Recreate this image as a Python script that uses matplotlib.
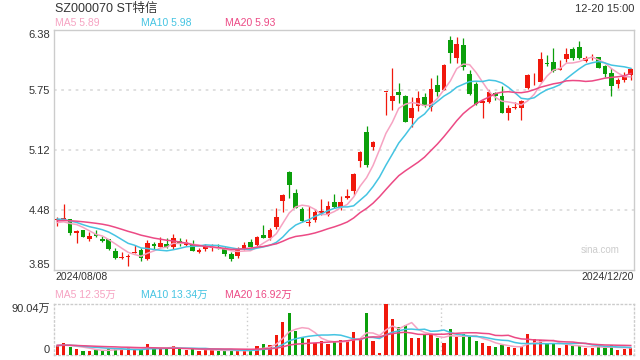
import matplotlib
matplotlib.use("Agg")
import matplotlib.pyplot as plt
import numpy as np
import pandas as pd

# ---------------- data ----------------
title = "SZ000070 ST特信"
stamp = "12-20 15:00"
date_labels = ["2024/08/08", "2024/12/20"]
price_ticks = [3.85, 4.4825, 5.115, 5.7475, 6.38]
price_tick_labels = ["3.85", "4.48", "5.12", "5.75", "6.38"]
vol_tick_labels = ["0", "90.04万"]
vol_max = 90.04

opens = [4.375, 4.39, 4.385, 4.237, 4.272, 4.177, 4.229, 4.177, 4.177, 4.050,
         3.975, 3.987, 4.033, 4.061, 3.963, 4.12, 4.096, 4.12, 4.096, 4.159,
         4.113, 4.124, 4.040, 4.071, 4.085, 4.096, 4.071, 4.019, 4.0, 4.068,
         4.148, 4.113, 4.219, 4.184, 4.306, 4.58, 4.886, 4.659, 4.493, 4.349,
         4.377, 4.455, 4.43, 4.57, 4.51, 4.605, 4.686, 4.999, 5.308, 5.15,
         5.46, 5.73, 5.632, 5.73, 5.688, 5.45, 5.582, 5.677, 5.571, 5.80,
         5.747, 6.275, 6.082, 6.222, 5.913, 5.808, 5.607, 5.618, 5.719, 5.687,
         5.502, 5.555, 5.561, 5.765, 5.838, 5.835, 6.029, 6.04, 5.958, 6.074,
         6.18, 6.198, 6.053, 6.085, 6.092, 6.004, 5.923, 5.81, 5.853, 5.905]
highs = [4.41, 4.55, 4.39, 4.27, 4.275, 4.254, 4.272, 4.208, 4.18, 4.085,
         4.043, 4.019, 4.113, 4.078, 4.166, 4.145, 4.201, 4.184, 4.23, 4.184,
         4.177, 4.166, 4.078, 4.124, 4.124, 4.124, 4.096, 4.043, 4.089, 4.148,
         4.177, 4.208, 4.324, 4.29, 4.50, 4.651, 4.89, 4.704, 4.517, 4.525,
         4.49, 4.595, 4.578, 4.651, 4.634, 4.70, 4.876, 5.105, 5.371, 5.21,
         5.46, 5.73, 5.983, 5.818, 5.70, 5.677, 5.737, 5.713, 5.871, 5.906,
         6.018, 6.317, 6.31, 6.292, 5.958, 5.835, 5.642, 5.748, 5.73, 5.793,
         5.59, 5.624, 5.642, 5.913, 5.923, 6.145, 6.116, 6.187, 6.064, 6.193,
         6.204, 6.267, 6.11, 6.124, 6.099, 6.011, 5.976, 5.877, 5.94, 5.983]
lows = [4.31, 4.38, 4.22, 4.138, 4.20, 4.159, 4.195, 4.145, 4.06, 3.963,
        3.97, 3.892, 4.03, 3.945, 3.952, 4.061, 4.09, 4.078, 4.068, 4.103,
        4.103, 4.05, 4.026, 4.053, 4.053, 4.075, 4.0, 3.948, 3.973, 4.061,
        4.089, 4.103, 4.19, 4.166, 4.279, 4.465, 4.606, 4.50, 4.359, 4.314,
        4.359, 4.43, 4.42, 4.505, 4.482, 4.595, 4.641, 4.939, 4.939, 5.115,
        5.46, 5.48, 5.537, 5.614, 5.41, 5.36, 5.526, 5.571, 5.526, 5.687,
        5.747, 6.029, 6.029, 5.958, 5.695, 5.59, 5.455, 5.607, 5.642, 5.50,
        5.43, 5.547, 5.43, 5.758, 5.80, 5.835, 6.004, 5.934, 5.958, 6.046,
        6.064, 6.074, 6.046, 6.064, 5.976, 5.888, 5.687, 5.772, 5.829, 5.853]
closes = [4.39, 4.40, 4.243, 4.264, 4.201, 4.208, 4.212, 4.159, 4.071, 3.980,
          3.980, 3.993, 4.043, 3.980, 4.138, 4.103, 4.138, 4.096, 4.184, 4.124,
          4.148, 4.053, 4.061, 4.106, 4.092, 4.08, 4.019, 3.969, 4.068, 4.113,
          4.096, 4.201, 4.19, 4.272, 4.406, 4.64, 4.746, 4.507, 4.367, 4.359,
          4.465, 4.47, 4.525, 4.512, 4.564, 4.632, 4.865, 5.097, 4.957, 5.203,
          5.46, 5.73, 5.687, 5.695, 5.413, 5.555, 5.666, 5.582, 5.758, 5.73,
          6.011, 6.134, 6.232, 5.993, 5.702, 5.597, 5.632, 5.73, 5.687, 5.502,
          5.555, 5.572, 5.632, 5.906, 5.842, 6.074, 6.018, 5.948, 5.983, 6.127,
          6.088, 6.088, 6.082, 6.09, 5.983, 5.916, 5.793, 5.853, 5.898, 5.969]
volumes = [15.9, 21.2, 14.7, 10.6, 7.1, 7.1, 9.4, 7.1, 10.6, 11.8,
           10.6, 11.8, 9.4, 9.4, 19.4, 11.8, 10.6, 10.6, 15.9, 11.8,
           9.4, 10.6, 7.1, 9.4, 9.4, 7.1, 7.1, 8.2, 7.1, 8.2,
           8.2, 15.9, 19.4, 17.1, 35.3, 58.3, 74.2, 42.4, 31.2, 28.2,
           21.8, 24.7, 19.4, 23.0, 26.5, 26.5, 40.6, 28.2, 74.2, 24.7,
           3.5, 90.04, 63.6, 49.4, 53.0, 30.0, 30.0, 37.1, 37.1, 30.0,
           21.2, 45.9, 31.8, 37.1, 31.8, 24.7, 21.2, 15.9, 14.1, 17.7,
           14.1, 12.4, 14.1, 37.1, 28.2, 26.5, 19.4, 19.4, 12.4, 17.7,
           15.9, 15.9, 12.4, 12.4, 15.9, 11.5, 17.7, 9.5, 10.6, 12.4]
# history before the first visible day (only feeds the moving averages)
prior_closes = [4.30, 4.32, 4.35, 4.33, 4.36, 4.38, 4.35, 4.34, 4.36, 4.40,
                4.43, 4.42, 4.41, 4.44, 4.42, 4.36, 4.33, 4.32, 4.35]
prior_volumes = [18, 16, 20, 17, 15, 19, 16, 18, 17, 21,
                 15, 17, 16, 18, 19, 17, 16, 18, 15]

ma_windows = [5, 10, 20]
ma_names = ["MA5", "MA10", "MA20"]
ma_colors = ["#f6a3c2", "#45c4e2", "#ec4a85"]
price_ma_text = ["5.89", "5.98", "5.93"]
vol_ma_text = ["12.35万", "13.34万", "16.92万"]

UP = "#f0180c"
DOWN = "#0b9f0b"

plt.rcParams['font.family'] = ['Liberation Sans', 'Noto Sans CJK SC', 'DejaVu Sans']

fig = plt.figure(figsize=(6.4, 3.6), dpi=100)
W, H = 640.0, 360.0
L, R = 54, 634
ax = fig.add_axes([L / W, 1 - 270 / H, (R - L) / W, 240 / H])
axv = fig.add_axes([L / W, 1 - 355 / H, (R - L) / W, 51 / H])

n = len(closes)
x = np.arange(n)
o = np.array(opens); c = np.array(closes)
hi = np.array(highs); lo = np.array(lows)
up = c >= o
cols = [UP if u else DOWN for u in up]

# candles
ax.vlines(x, lo, hi, colors=cols, linewidth=0.9, zorder=3)
body_bottom = np.minimum(o, c)
body_h = np.maximum(np.abs(c - o), 0.008)
ax.bar(x, body_h, bottom=body_bottom, width=0.72, color=cols, linewidth=0, zorder=4)

# moving averages
full_c = pd.Series(prior_closes + closes)
full_v = pd.Series(prior_volumes + volumes)
k0 = len(prior_closes)
for w, col in zip(ma_windows, ma_colors):
    ma = full_c.rolling(w).mean().values[k0:]
    ax.plot(x, ma, color=col, linewidth=1.1, zorder=5)
    mav = full_v.rolling(w).mean().values[k0:]
    axv.plot(x, mav, color=col, linewidth=1.1, zorder=5)

ax.set_xlim(-0.5, n - 0.5)
ax.set_ylim(price_ticks[0], price_ticks[-1])
for t in price_ticks[1:-1]:
    ax.axhline(t, color="#dddddd", linewidth=1.3, linestyle=(0, (1.5, 2.5)), zorder=1)
ax.set_xticks([])
ax.set_yticks(price_ticks, price_tick_labels)
ax.tick_params(axis='y', length=0, pad=3, labelsize=8, labelcolor="#333333")
labs = ax.get_yticklabels()
labs[0].set_va('bottom')
labs[-1].set_va('top')
for s in ax.spines.values():
    s.set_color("#cccccc")
    s.set_linewidth(1.0)

# volume bars
axv.bar(x, volumes, width=0.5, color=cols, linewidth=0, zorder=3)
axv.set_xlim(-0.5, n - 0.5)
axv.set_ylim(0, vol_max)
axv.set_xticks([])
axv.set_yticks([0, vol_max], vol_tick_labels)
axv.tick_params(axis='y', length=0, pad=3, labelsize=8, labelcolor="#333333")
vl = axv.get_yticklabels()
vl[0].set_va('bottom')
vl[1].set_va('top')
for xv in [n / 3 - 0.5, 2 * n / 3 - 0.5]:
    axv.axvline(xv, color="#cccccc", linewidth=1.0, linestyle=(0, (1, 2)), zorder=1)
for s in axv.spines.values():
    s.set_color("#cccccc")
    s.set_linewidth(1.0)
    s.set_linestyle((0, (1, 2)))

# texts
fig.text(55 / W, 1 - 9 / H, title, fontsize=9, color="#333333", va='center', ha='left')
fig.text(R / W, 1 - 9 / H, stamp, fontsize=8, color="#333333", va='center', ha='right')
xs_leg = [55, 141, 225]
for xp, nm, col, tv, vv in zip(xs_leg, ma_names, ma_colors, price_ma_text, vol_ma_text):
    fig.text(xp / W, 1 - 23 / H, f"{nm} {tv}", fontsize=7.5, color=col, va='center', ha='left')
    fig.text(xp / W, 1 - 295 / H, f"{nm} {vv}", fontsize=7.5, color=col, va='center', ha='left')
fig.text(55 / W, 1 - 277 / H, date_labels[0], fontsize=7.5, color="#333333", va='center', ha='left')
fig.text(R / W, 1 - 277 / H, date_labels[1], fontsize=7.5, color="#333333", va='center', ha='right')
fig.text(620 / W, 1 - 250 / H, "sina.com", fontsize=7, color="#cccccc", va='center', ha='right')

fig.savefig("out.png", dpi=100, facecolor="white")
